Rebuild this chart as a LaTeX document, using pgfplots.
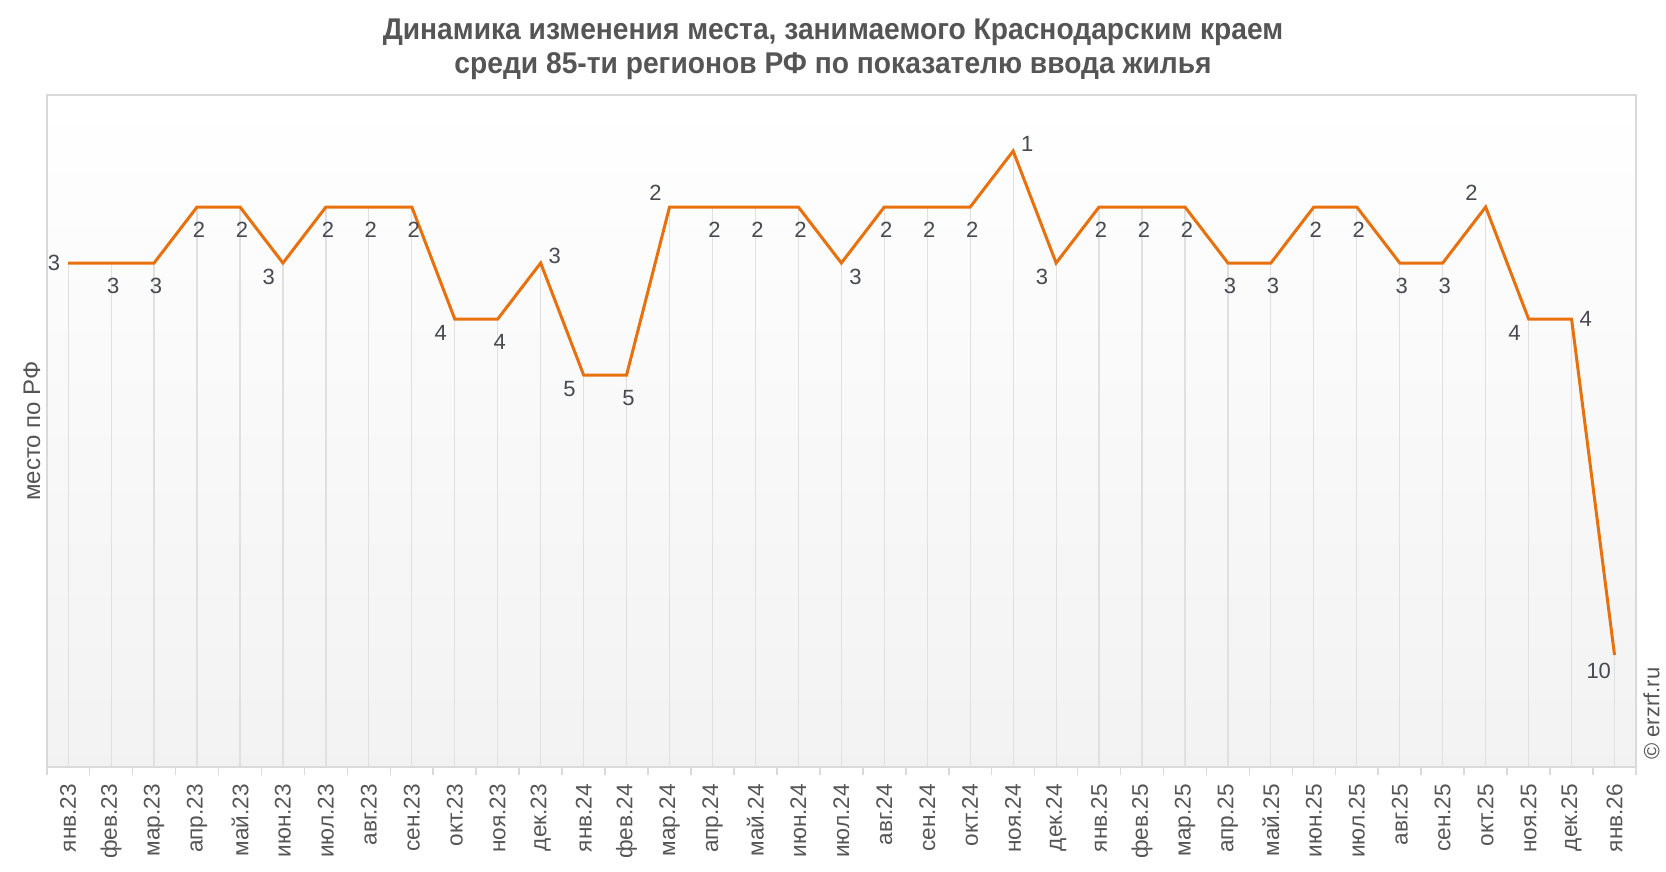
\documentclass[border=0pt]{standalone}
\usepackage{fontspec}
\setmainfont{Liberation Sans}
\newfontfamily\titlefont{Liberation Sans}[FakeStretch=0.94]
\usepackage{pgfplots}
\pgfplotsset{compat=1.18}
\usepackage{pgfplotstable}

\definecolor{lineorange}{RGB}{232,113,14}
\definecolor{labelgray}{RGB}{72,74,82}
\definecolor{titlegray}{RGB}{85,85,85}
\definecolor{tickgray}{RGB}{85,85,85}
\definecolor{gridgray}{RGB}{224,224,224}
\definecolor{framegray}{RGB}{218,218,218}

% month index, place, distance to the bottom of the axis (12)
\pgfplotstableread{
x y err
0 3 9
1 3 9
2 3 9
3 2 10
4 2 10
5 3 9
6 2 10
7 2 10
8 2 10
9 4 8
10 4 8
11 3 9
12 5 7
13 5 7
14 2 10
15 2 10
16 2 10
17 2 10
18 3 9
19 2 10
20 2 10
21 2 10
22 1 11
23 3 9
24 2 10
25 2 10
26 2 10
27 3 9
28 3 9
29 2 10
30 2 10
31 3 9
32 3 9
33 2 10
34 4 8
35 4 8
36 10 2
}\rankdata

\pgfplotsset{
  lbl/.style={draw=none, mark=none, nodes near coords,
    every node near coord/.append style={anchor=#1, inner sep=2pt, outer sep=2pt,
      font=\fontsize{11}{12}\selectfont, text=labelgray}},
}

\begin{document}
\begin{tikzpicture}
\path[use as bounding box] (0,0) rectangle (833pt,436pt);
\node[anchor=base, font=\titlefont\bfseries\fontsize{15}{15}\selectfont, text=titlegray] at (416.5pt,416pt)
  {Динамика изменения места, занимаемого Краснодарским краем};
\node[anchor=base, font=\titlefont\bfseries\fontsize{15}{15}\selectfont, text=titlegray] at (416.5pt,399pt)
  {среди 85-ти регионов РФ по показателю ввода жилья};
\begin{axis}[
  at={(23.35pt,52.5pt)}, anchor=south west,
  scale only axis, width=794.65pt, height=336pt,
  xmin=-0.5, xmax=36.5, ymin=0, ymax=12, y dir=reverse,
  ytick=\empty,
  xtick={0,...,36},
  xticklabels={янв.23,фев.23,мар.23,апр.23,май.23,июн.23,июл.23,авг.23,сен.23,окт.23,ноя.23,дек.23,
    янв.24,фев.24,мар.24,апр.24,май.24,июн.24,июл.24,авг.24,сен.24,окт.24,ноя.24,дек.24,
    янв.25,фев.25,мар.25,апр.25,май.25,июн.25,июл.25,авг.25,сен.25,окт.25,ноя.25,дек.25,янв.26},
  minor xtick={-0.5,0.5,...,36.5},
  major tick length=0pt, minor tick length=4pt,
  tick align=outside, xtick pos=bottom,
  tick style={framegray, line width=0.8pt},
  xticklabel style={font=\fontsize{11.3}{12}\selectfont, text=tickgray, yshift=-5pt, rotate=90, anchor=east},
  axis line style={framegray, line width=0.8pt},
  axis background/.style={top color=white, bottom color=gray!10},
  ylabel={место по РФ},
  every axis y label/.style={at={(axis description cs:0,0.5)}, rotate=90, anchor=south, inner sep=3pt,
    font=\fontsize{12}{13}\selectfont, text=tickgray},
  clip=false,
  /pgf/number format/assume math mode=true,
]
% drop lines from each point to the bottom
\addplot[draw=none, mark=none,
  error bars/.cd, y dir=plus, y explicit, error mark=none,
  error bar style={draw=gridgray, line width=0.6pt}]
  table[x=x, y=y, y error=err] {\rankdata};
\addplot[lineorange, line width=1.5pt, mark=none] table[x=x, y=y] {\rankdata};
% value labels, grouped by where they sit around the point
\addplot[lbl=90, every node near coord/.append style={yshift=-3.5pt, xshift=1pt}]
  coordinates {(1,3) (2,3) (3,2) (4,2) (6,2) (7,2) (8,2) (10,4) (13,5)
  (15,2) (16,2) (17,2) (19,2) (20,2) (21,2) (24,2) (25,2) (26,2) (27,3) (28,3)
  (29,2) (30,2) (31,3) (32,3)};
\addplot[lbl=45] coordinates {(5,3) (9,4) (12,5) (23,3) (34,4) (36,10)};
\addplot[lbl=208] coordinates {(11,3) (22,1)};
\addplot[lbl=315] coordinates {(14,2) (33,2)};
\addplot[lbl=135] coordinates {(18,3)};
\addplot[lbl=0] coordinates {(0,3)};
\addplot[lbl=180] coordinates {(35,4)};
\node[rotate=90, anchor=north west, inner sep=0pt, font=\fontsize{11}{12}\selectfont, text=tickgray]
  at ([xshift=3.5pt, yshift=3.5pt] rel axis cs:1,0) {© erzrf.ru};
\end{axis}
\end{tikzpicture}
\end{document}
